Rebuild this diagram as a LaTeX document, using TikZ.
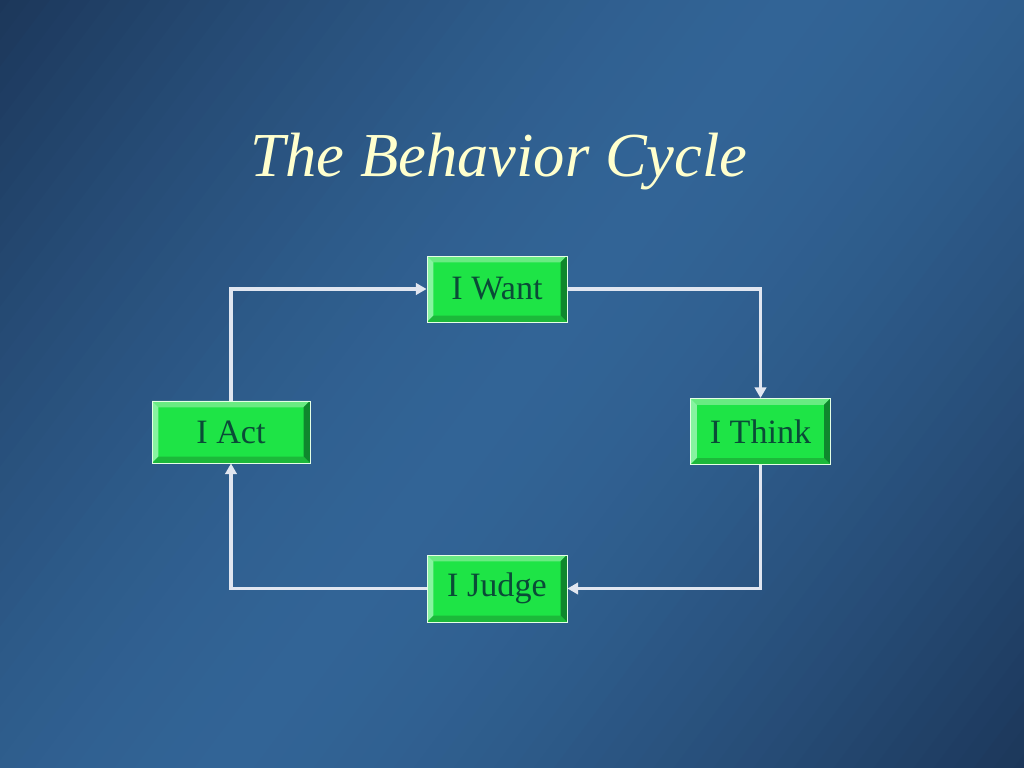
\documentclass[tikz,border=0pt]{standalone}
\usepackage{fontspec}
\setmainfont{Liberation Serif}
\usetikzlibrary{arrows.meta}
\definecolor{bgdark}{RGB}{28,55,90}
\definecolor{bglight}{RGB}{50,100,150}
\definecolor{titlecream}{RGB}{255,255,205}
\definecolor{boxgreen}{RGB}{30,228,70}
\definecolor{bevtop}{RGB}{105,235,130}
\definecolor{bevleft}{RGB}{135,243,160}
\definecolor{bevright}{RGB}{15,135,45}
\definecolor{bevbottom}{RGB}{28,185,58}
\definecolor{boxtext}{RGB}{10,75,55}
\definecolor{linkgray}{RGB}{225,230,240}
\tikzset{
  bevelbox/.style={rectangle, fill=boxgreen, draw=green!10!white, line width=0.6pt,
    text=boxtext, font=\fontsize{24}{28}\selectfont, inner sep=0pt,
    minimum width=98.4pt, minimum height=46.4pt,
    path picture={
      \fill[bevtop] (path picture bounding box.north west) -- (path picture bounding box.north east)
        -- ([shift={(-4.5pt,-4.5pt)}]path picture bounding box.north east) -- ([shift={(4.5pt,-4.5pt)}]path picture bounding box.north west) -- cycle;
      \fill[bevleft] (path picture bounding box.north west) -- (path picture bounding box.south west)
        -- ([shift={(4.5pt,4.5pt)}]path picture bounding box.south west) -- ([shift={(4.5pt,-4.5pt)}]path picture bounding box.north west) -- cycle;
      \fill[bevright] (path picture bounding box.north east) -- (path picture bounding box.south east)
        -- ([shift={(-4.5pt,4.5pt)}]path picture bounding box.south east) -- ([shift={(-4.5pt,-4.5pt)}]path picture bounding box.north east) -- cycle;
      \fill[bevbottom] (path picture bounding box.south west) -- (path picture bounding box.south east)
        -- ([shift={(-4.5pt,4.5pt)}]path picture bounding box.south east) -- ([shift={(4.5pt,4.5pt)}]path picture bounding box.south west) -- cycle;
    }},
  link/.style={draw=linkgray, line width=2.2pt, -{Triangle[length=7.5pt,width=8pt]}}
}
\begin{document}
\begin{tikzpicture}[x=0.703125pt, y=-0.703125pt]
  % background, dark corners top left and bottom right
  \begin{scope}
    \clip (0,0) rectangle (1024,768);
    \begin{scope}[shift={(512,384)}, rotate=-36.87]
      \foreach \t in {-640,-624,...,640} {
        \pgfmathsetmacro\p{100*(1-(abs(\t)/640)^1.5)}
        \fill[bglight!\p!bgdark] (\t-8,-700) rectangle (\t+9,700);
      }
    \end{scope}
  \end{scope}
  \useasboundingbox (0,0) rectangle (1024,768);
  \node[anchor=base, text=titlecream, font=\fontsize{44}{50}\selectfont\itshape] (title) at (499,177) {The Behavior Cycle};
  % the four steps
  \node[bevelbox] (want) at (497,289) {I Want};
  \node[bevelbox] (think) at (760.5,431.5) {I Think};
  \node[bevelbox, minimum height=47.1pt] (judge) at (497,588.5) {I Judge};
  \node[bevelbox, minimum width=111pt, minimum height=43.6pt] (act) at (231,432) {I Act};
  % cycle
  \draw[link] (want.east) -| (think.north);
  \draw[link] (think.south) |- (judge.east);
  \draw[link] (judge.west) -| (act.south);
  \draw[link] (act.north) |- (want.west);
\end{tikzpicture}
\end{document}
